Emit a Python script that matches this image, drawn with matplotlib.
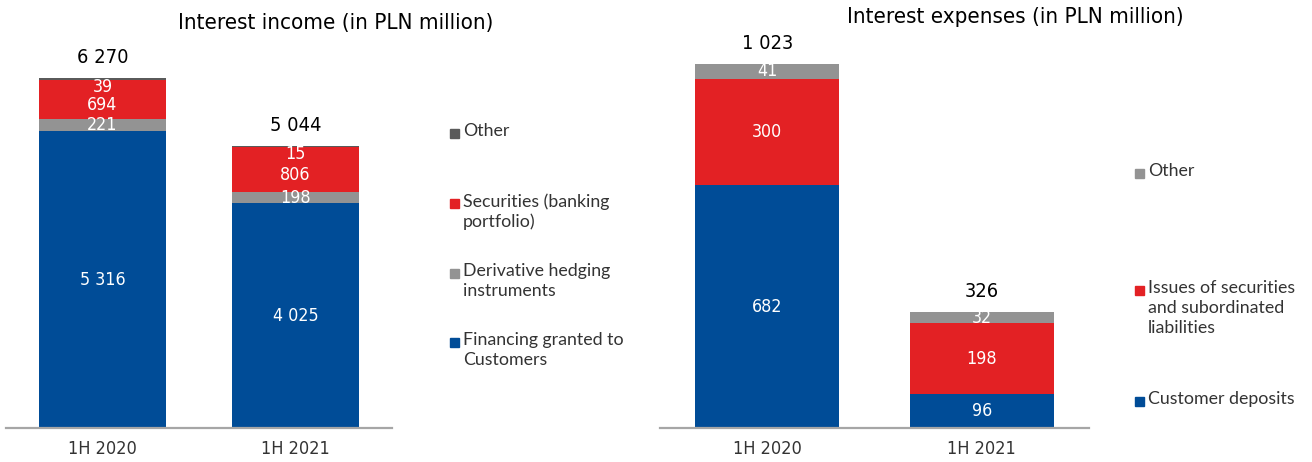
import matplotlib
matplotlib.use("Agg")
import matplotlib.pyplot as plt
from matplotlib.patches import Rectangle

# ---- data ----
periods = ["1H 2020", "1H 2021"]

income_financing = [5316, 4025]
income_derivatives = [221, 198]
income_securities = [694, 806]
income_other = [39, 15]

expense_deposits = [682, 96]
expense_issues = [300, 198]
expense_other = [41, 32]

income_legend = ["Other", "Securities (banking\nportfolio)",
                 "Derivative hedging\ninstruments", "Financing granted to\nCustomers"]
expense_legend = ["Other", "Issues of securities\nand subordinated\nliabilities",
                  "Customer deposits"]

BLUE = "#004c97"
RED = "#e32124"
GRAY = "#939393"
DARK = "#5a5a5a"
TXT = "#333333"
NUM = dict(family="DejaVu Sans", stretch="condensed")
LEG_FONT = ["Lato", "DejaVu Sans"]

W, H = 1312, 462
fig = plt.figure(figsize=(W / 100, H / 100), dpi=100)


def fx(px):
    return px / W


def fy(py):
    return 1 - py / H


def fmt(v):
    return f"{v:,}".replace(",", " ")


def make_axes(x0, x1, top_px, bottom_px):
    ax = fig.add_axes([fx(x0), fy(bottom_px), fx(x1) - fx(x0), fy(top_px) - fy(bottom_px)])
    for s in ["top", "right", "left"]:
        ax.spines[s].set_visible(False)
    ax.spines["bottom"].set_color("#a6a6a6")
    ax.spines["bottom"].set_linewidth(1.6)
    ax.set_yticks([])
    ax.set_xlim(-0.5, 1.5)
    ax.set_xticks([0, 1])
    ax.set_xticklabels(periods, fontsize=13, color=TXT, **NUM)
    ax.tick_params(axis="x", length=0, pad=9)
    return ax


def stack(ax, series, colors, width):
    bottoms = [0] * len(periods)
    out = []
    for vals, c in zip(series, colors):
        ax.bar(range(len(periods)), vals, width, bottom=bottoms, color=c, linewidth=0)
        out.append(list(bottoms))
        bottoms = [b + v for b, v in zip(bottoms, vals)]
    return out, bottoms


def seg_label(ax, x, y, value, dy=0):
    ax.annotate(fmt(value), (x, y), xytext=(0, dy), textcoords="offset points",
                ha="center", va="center", color="white", fontsize=12.8, **NUM)


def total_label(ax, x, y, value):
    ax.annotate(fmt(value), (x, y), xytext=(0, 15), textcoords="offset points",
                ha="center", va="center", color="black", fontsize=14.4, **NUM)


# ---- left: interest income ----
axL = make_axes(6, 392, 40, 428)
axL.set_ylim(0, 6270 * 388 / 350)
seriesL = [income_financing, income_derivatives, income_securities, income_other]
basesL, totalsL = stack(axL, seriesL, [BLUE, GRAY, RED, DARK], 0.66)
for i in range(len(periods)):
    seg_label(axL, i, basesL[0][i] + income_financing[i] / 2, income_financing[i])
    seg_label(axL, i, basesL[1][i] + income_derivatives[i] / 2, income_derivatives[i])
    seg_label(axL, i, basesL[2][i] + income_securities[i] / 2, income_securities[i], dy=-4)
    # the thin "Other" slice is labelled just beneath it
    seg_label(axL, i, basesL[3][i], income_other[i], dy=-4.8)
    total_label(axL, i, totalsL[i], totalsL[i])
fig.text(fx(336), fy(23), "Interest income (in PLN million)", ha="center", va="center",
         fontsize=16, color="black", **NUM)

# ---- right: interest expenses ----
axR = make_axes(660, 1089, 40, 428)
axR.set_ylim(0, 1023 * 388 / 364)
seriesR = [expense_deposits, expense_issues, expense_other]
basesR, totalsR = stack(axR, seriesR, [BLUE, RED, GRAY], 0.67)
for i in range(len(periods)):
    for vals, base in zip(seriesR, basesR):
        seg_label(axR, i, base[i] + vals[i] / 2, vals[i])
    total_label(axR, i, totalsR[i], totalsR[i])
fig.text(fx(1015), fy(17), "Interest expenses (in PLN million)", ha="center", va="center",
         fontsize=16, color="black", **NUM)


# ---- legends ----
def legend_entry(xsq, xtxt, ytop, label, color):
    fig.add_artist(Rectangle((fx(xsq), fy(ytop + 5)), fx(9), 9 / H, color=color,
                             transform=fig.transFigure))
    fig.text(fx(xtxt), fy(ytop - 10), label, ha="left", va="top", fontsize=12.8,
             family=LEG_FONT, color=TXT, linespacing=1.3)


for label, color, y in zip(income_legend, [DARK, RED, GRAY, BLUE], [133, 203, 273, 342]):
    legend_entry(450, 463, y, label, color)
for label, color, y in zip(expense_legend, [GRAY, RED, BLUE], [173, 290, 401]):
    legend_entry(1135, 1148, y, label, color)

fig.savefig("out.png", dpi=100)
